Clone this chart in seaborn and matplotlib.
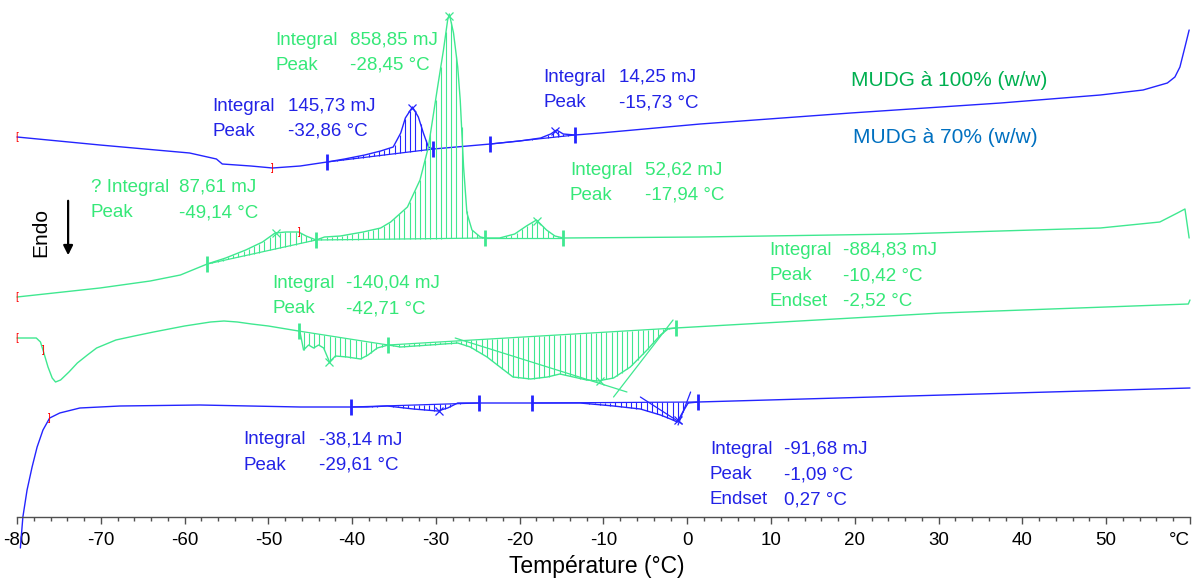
import matplotlib
matplotlib.use('Agg')
import matplotlib.pyplot as plt
import numpy as np
import pandas as pd
import seaborn as sns

#
#   Thermogram values (temperature in °C, signal in a.u.)
#
t_blue_heat = [-80, -70.1, -59.4, -56.2, -55.5, -52.1, -49.5, -46.2, -43.0, -40.9, -38.5, -36.6,
               -35.1, -34.2, -33.65, -32.8, -32.1, -31.5, -30.9, -30.3, -23.5, -20.0, -17.5, -16.3,
               -15.6, -14.8, -13.4, -10.4, 1.55, 19.5, 37.4, 49.3, 54.4, 57.3, 58.2, 58.8, 59.4, 59.9]
y_blue_heat = [38.0, 37.2, 36.4, 35.8, 35.3, 35.1, 34.9, 35.1, 35.5, 35.8, 36.2, 36.6,
               37.0, 38.4, 39.9, 41.0, 40.0, 38.4, 37.0, 36.8, 37.3, 37.6, 37.9, 38.3,
               38.7, 38.3, 38.2, 38.4, 39.3, 40.4, 41.4, 42.2, 42.7, 43.4, 44.0, 45.0, 47.0, 48.7]

t_green_heat = [-80, -70.1, -64.1, -60.5, -57.3, -55.1, -52.7, -50.7, -49.2, -47.9, -46.4, -45.5,
                -44.3, -43.3, -41.4, -38.7, -36.6, -35.4, -33.4, -31.9, -30.9, -29.8, -29.1, -28.6,
                -28.4, -27.9, -27.4, -27.1, -26.7, -26.3, -25.7, -24.7, -24.1, -22.4, -20.6, -19.2,
                -18.0, -16.8, -15.8, -14.8, 1.55, 25.4, 49.3, 56.4, 58.5, 59.4, 59.9]
y_green_heat = [22.0, 22.9, 23.6, 24.2, 25.3, 25.9, 26.7, 27.5, 28.4, 28.5, 28.5, 28.1,
                27.7, 28.0, 28.1, 28.5, 28.9, 29.5, 31.0, 33.7, 37.0, 43.0, 46.7, 49.7,
                50.3, 48.4, 45.0, 41.7, 35.0, 30.4, 28.7, 28.0, 27.9, 27.9, 28.3, 29.1,
                29.7, 28.7, 28.1, 27.9, 28.0, 28.3, 28.9, 29.5, 30.4, 30.8, 27.9]

t_green_cool = [-80, -77.7, -77.2, -76.9, -76.3, -75.8, -75.4, -74.8, -73.8, -72.8, -71.6, -70.5,
                -68.2, -66.0, -63.7, -60.0, -56.9, -55.3, -53.7, -52.0, -50.0, -46.4, -46.2, -45.8,
                -45.2, -44.6, -44.0, -43.4, -42.7, -42.0, -40.6, -39.0, -38.1, -37.0, -35.7, -34.2,
                -30.7, -27.4, -25.9, -23.9, -22.2, -20.8, -18.7, -16.7, -15.2, -13.6, -12.0, -10.7,
                -8.8, -6.8, -4.8, -3.2, -2.3, -1.4, 30.3, 59.8, 60.0]
y_green_cool = [17.9, 17.9, 17.5, 16.7, 15.0, 13.9, 13.5, 13.7, 14.5, 15.4, 16.2, 16.9,
                17.7, 18.1, 18.5, 19.1, 19.5, 19.6, 19.5, 19.3, 19.1, 18.6, 18.4, 16.7,
                17.2, 16.9, 17.2, 16.9, 15.5, 16.1, 16.0, 15.8, 16.2, 16.9, 17.2, 17.0,
                17.2, 17.4, 17.0, 16.0, 14.9, 14.0, 13.8, 14.0, 14.3, 14.0, 13.7, 13.6,
                13.9, 15.0, 16.7, 18.2, 18.8, 18.9, 20.4, 21.3, 21.7]

t_blue_cool = [-79.6, -79.3, -78.8, -78.2, -77.6, -76.9, -76.1, -74.9, -72.5, -67.7, -58.2, -46.2,
               -40.1, -38.2, -35.8, -32.7, -29.8, -28.6, -27.4, -24.9, -18.5, -12.8, -8.8, -5.6,
               -3.2, -2.0, -1.2, -0.6, 0.1, 1.3, 60.0]
y_blue_cool = [-3.1, 0.0, 2.7, 5.0, 7.0, 8.7, 9.9, 10.4, 10.9, 11.1, 11.2, 11.0,
               11.0, 11.0, 11.1, 10.8, 10.6, 10.9, 11.4, 11.4, 11.4, 11.4, 11.1, 10.8,
               10.2, 9.8, 9.5, 10.4, 11.4, 11.5, 12.9]

# integration limits and peak temperatures
limits_blue_heat = [(-43.0, -30.3), (-23.5, -13.4)]
limits_green_heat = [(-57.3, -44.3), (-44.3, -24.1), (-24.1, -14.8)]
limits_green_cool = [(-46.4, -35.7), (-35.7, -1.4)]
limits_blue_cool = [(-40.1, -24.9), (-18.5, 1.3)]
peaks_blue_heat = [-32.86, -15.73]
peaks_green_heat = [-49.14, -28.45, -17.94]
peaks_green_cool = [-42.71, -10.42]
peaks_blue_cool = [-29.61, -1.09]

# onset / endset tangents (T0, y0, T1, y1)
tangents_green = [(-27.7, 17.9, -7.2, 12.5), (-8.8, 12.0, -1.7, 19.7)]
tangents_blue = [(-5.6, 12.0, -0.6, 9.3), (-1.1, 9.2, 0.4, 12.5)]

# red range brackets: (T, curve, symbol)
brackets = [(-80, 'blue_heat', '['), (-49.5, 'blue_heat', ']'),
            (-80, 'green_heat', '['), (-46.3, 'green_heat', ']'),
            (-80, 'green_cool', '['), (-76.9, 'green_cool', ']'),
            (-76.1, 'blue_cool', ']')]

BLUE_LINE = '#2424ff'
GREEN_LINE = '#3fe890'
BLUE_TXT = '#2222e6'
GREEN_TXT = '#35e878'

curves = {
  'blue_heat': (t_blue_heat, y_blue_heat, BLUE_LINE, limits_blue_heat, peaks_blue_heat),
  'green_heat': (t_green_heat, y_green_heat, GREEN_LINE, limits_green_heat, peaks_green_heat),
  'green_cool': (t_green_cool, y_green_cool, GREEN_LINE, limits_green_cool, peaks_green_cool),
  'blue_cool': (t_blue_cool, y_blue_cool, BLUE_LINE, limits_blue_cool, peaks_blue_cool),
}

sns.set_theme(style='white')
plt.rcParams['font.family'] = ['Liberation Sans', 'DejaVu Sans']

fig = plt.figure(figsize=(11.93, 5.83), dpi=100)
ax = fig.add_axes([0, 0, 1, 1])

for name, (t, y, col, lims, peaks) in curves.items():
  df = pd.DataFrame({'T': t, 'signal': y})
  sns.lineplot(data=df, x='T', y='signal', ax=ax, color=col, lw=1.0, sort=False, estimator=None)
  # hatching between curve and straight baseline
  for t0, t1 in lims:
    b0, b1 = np.interp([t0, t1], t, y)
    ax.plot([t0, t1], [b0, b1], color=col, lw=0.9)
    ts = np.arange(t0, t1, 0.62)
    ax.vlines(ts, np.interp(ts, t, y), np.interp(ts, [t0, t1], [b0, b1]), color=col, lw=0.8)
  edges = sorted(set([v for pair in lims for v in pair]))
  ax.plot(edges, np.interp(edges, t, y), ls='none', marker='|', ms=11, mew=2.0, color=col)
  ax.plot(peaks, np.interp(peaks, t, y), ls='none', marker='x', ms=6, mew=0.9, color=col)

for t0, y0, t1, y1 in tangents_green:
  ax.plot([t0, t1], [y0, y1], color=GREEN_LINE, lw=0.9)
for t0, y0, t1, y1 in tangents_blue:
  ax.plot([t0, t1], [y0, y1], color=BLUE_LINE, lw=0.9)

for tb, cname, sym in brackets:
  t, y = curves[cname][0], curves[cname][1]
  ax.text(tb, np.interp(tb, t, y), sym, color='red', fontsize=7, ha='center', va='center')

#
#   Peak annotations
#
notes = [
  (-49.2, -40.2, 47.7, GREEN_TXT, [('Integral', '858,85 mJ'), ('Peak', '-28,45 °C')]),
  (-56.7, -47.7, 41.1, BLUE_TXT, [('Integral', '145,73 mJ'), ('Peak', '-32,86 °C')]),
  (-17.2, -8.2, 44.0, BLUE_TXT, [('Integral', '14,25 mJ'), ('Peak', '-15,73 °C')]),
  (-71.2, -60.7, 33.0, GREEN_TXT, [('? Integral', '87,61 mJ'), ('Peak', '-49,14 °C')]),
  (-14.0, -5.0, 34.7, GREEN_TXT, [('Integral', '52,62 mJ'), ('Peak', '-17,94 °C')]),
  (9.8, 18.6, 26.7, GREEN_TXT, [('Integral', '-884,83 mJ'), ('Peak', '-10,42 °C'), ('Endset', '-2,52 °C')]),
  (-49.5, -40.7, 23.4, GREEN_TXT, [('Integral', '-140,04 mJ'), ('Peak', '-42,71 °C')]),
  (-53.0, -44.0, 7.7, BLUE_TXT, [('Integral', '-38,14 mJ'), ('Peak', '-29,61 °C')]),
  (2.7, 11.6, 6.8, BLUE_TXT, [('Integral', '-91,68 mJ'), ('Peak', '-1,09 °C'), ('Endset', '0,27 °C')]),
]
for xk, xv, ytop, col, rows in notes:
  for i, (k, v) in enumerate(rows):
    yy = ytop - 2.55 * i
    ax.text(xk, yy, k, color=col, fontsize=13.5, ha='left', va='center')
    ax.text(xv, yy, v, color=col, fontsize=13.5, ha='left', va='center')

ax.text(19.5, 43.7, 'MUDG à 100% (w/w)', color='#00b050', fontsize=15, ha='left', va='center')
ax.text(19.8, 38.0, 'MUDG à 70% (w/w)', color='#0070c0', fontsize=15, ha='left', va='center')
ax.text(-77.2, 28.5, 'Endo', color='black', fontsize=15, rotation=90, ha='center', va='center')
ax.annotate('', xy=(-73.9, 25.9), xytext=(-73.9, 31.9),
            arrowprops=dict(arrowstyle='-|>', color='black', lw=1.6, mutation_scale=14))

#
#   Temperature axis
#
ax.set_xlim(-82.03, 60.36)
ax.set_ylim(-6.6, 51.7)
for side in ['left', 'right', 'top']:
  ax.spines[side].set_visible(False)
ax.spines['bottom'].set_position(('data', 0))
ax.spines['bottom'].set_bounds(-80, 60)
ax.spines['bottom'].set_color('#505050')
ax.spines['bottom'].set_linewidth(1.0)
ax.set_xticks(np.arange(-80, 61, 10))
ax.set_xticklabels([str(v) for v in range(-80, 60, 10)] + ['°C'])
ax.get_xticklabels()[-1].set_horizontalalignment('right')
ax.set_xticks(np.arange(-80, 61, 2), minor=True)
ax.tick_params(axis='x', which='major', direction='out', length=5, width=1, color='#505050',
               labelsize=13.5, labelcolor='black', pad=6, bottom=True)
ax.tick_params(axis='x', which='minor', direction='out', length=3, width=1, color='#505050', bottom=True)
ax.set_yticks([])
ax.set_xlabel('Température (°C)', fontsize=16.5, color='black', labelpad=4)
ax.set_ylabel('')

plt.savefig('out.png', dpi=100)
